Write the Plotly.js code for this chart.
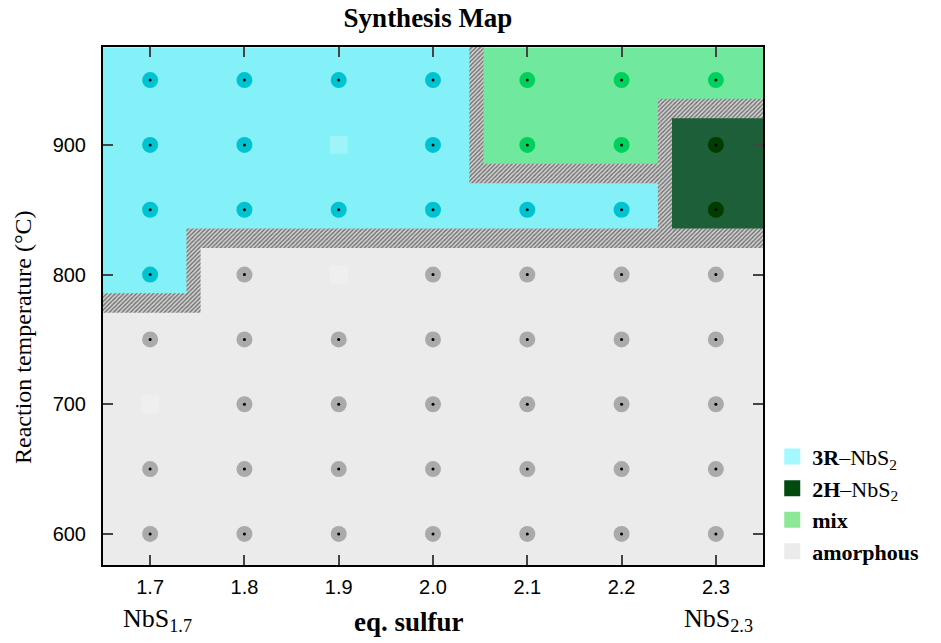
<!DOCTYPE html>
<html>
<head>
<meta charset="utf-8">
<script src="https://cdn.plot.ly/plotly-3.0.1.min.js"></script>
<style>html,body{margin:0;padding:0;background:#fff;}#chart{width:941px;height:643px;}</style>
</head>
<body>
<div id="chart"></div>
<script>
// ---- data ----
const sulfurEq = [1.7, 1.8, 1.9, 2.0, 2.1, 2.2, 2.3];
const temperatures = [600, 650, 700, 750, 800, 850, 900, 950];
// phase of each grid cell, one string per temperature row (A amorphous, R 3R-NbS2, M mix, H 2H-NbS2)
const phaseRows = [
  'AAAAAAA', // 600
  'AAAAAAA', // 650
  'AAAAAAA', // 700
  'AAAAAAA', // 750
  'RAAAAAA', // 800
  'RRRRRRH', // 850
  'RRRRMMH', // 900
  'RRRRMMM'  // 950
];
// grid points without a measurement
const missingX = [1.7, 1.9, 1.9];
const missingY = [700, 800, 900];
const phaseNames = {R: '<b>3R</b>–NbS<sub>2</sub>', H: '<b>2H</b>–NbS<sub>2</sub>', M: '<b>mix</b>', A: '<b>amorphous</b>'};
const legendOrder = ['R', 'H', 'M', 'A'];

// ---- styles ----
const regionColor = {A: '#ebebeb', R: '#84f1f8', M: '#70e89e', H: '#1c5f38'};
const markerColor = {A: '#aaaaaa', R: '#00c3d2', M: '#00d15e', H: '#003c00'};
const legendColor = {A: '#ebebeb', R: '#a2f9ff', M: '#8ae896', H: '#004a10'};
const code = {A: 0, R: 1, M: 2, H: 3};

const xStep = sulfurEq[1] - sulfurEq[0];
const yStep = temperatures[1] - temperatures[0];
const bandHalfX = 0.0075, bandHalfY = 7.5, bandShiftX = -0.004, bandShiftY = 3;

// heatmap of phase regions
const z = phaseRows.map(r => r.split('').map(c => code[c]));
const traces = [];
traces.push({
  type: 'heatmap', x: sulfurEq, y: temperatures, z: z,
  zmin: 0, zmax: 3, showscale: false, hoverinfo: 'skip',
  colorscale: [[0, regionColor.A], [0.1667, regionColor.A], [0.1667, regionColor.R], [0.5, regionColor.R],
               [0.5, regionColor.M], [0.8333, regionColor.M], [0.8333, regionColor.H], [1, regionColor.H]]
});

// hatched boundary bands between cells of different phase
const bx = [], by = [];
function rect(x0, x1, y0, y1) {
  x0 += bandShiftX; x1 += bandShiftX; y0 += bandShiftY; y1 += bandShiftY;
  bx.push(x0, x1, x1, x0, x0, null);
  by.push(y0, y0, y1, y1, y0, null);
}
for (let i = 0; i < temperatures.length; i++) {
  for (let j = 0; j < sulfurEq.length; j++) {
    const p = phaseRows[i][j];
    if (j + 1 < sulfurEq.length && phaseRows[i][j + 1] !== p) {
      const xm = (sulfurEq[j] + sulfurEq[j + 1]) / 2;
      rect(xm - bandHalfX, xm + bandHalfX, temperatures[i] - yStep / 2 - bandHalfY, temperatures[i] + yStep / 2 + bandHalfY);
    }
    if (i + 1 < temperatures.length && phaseRows[i + 1][j] !== p) {
      const ym = (temperatures[i] + temperatures[i + 1]) / 2;
      rect(sulfurEq[j] - xStep / 2 - bandHalfX, sulfurEq[j] + xStep / 2 + bandHalfX, ym - bandHalfY, ym + bandHalfY);
    }
  }
}
traces.push({
  type: 'scatter', x: bx, y: by, mode: 'none', fill: 'toself',
  fillcolor: '#c8c8c8',
  fillpattern: {shape: '/', fgcolor: '#6e6e6e', bgcolor: '#d4d4d4', size: 3, solidity: 0.45},
  showlegend: false, hoverinfo: 'skip'
});

// measured points
const isMissing = (x, y) => missingX.some((mx, k) => Math.abs(mx - x) < 1e-9 && missingY[k] === y);
const allX = [], allY = [];
legendOrder.forEach(ph => {
  const px = [], py = [];
  temperatures.forEach((t, i) => sulfurEq.forEach((s, j) => {
    if (phaseRows[i][j] === ph && !isMissing(s, t)) { px.push(s); py.push(t); allX.push(s); allY.push(t); }
  }));
  traces.push({type: 'scatter', mode: 'markers', x: px, y: py, showlegend: false,
    marker: {size: 16, color: markerColor[ph], line: {width: 0}}});
});
traces.push({type: 'scatter', mode: 'markers', x: allX, y: allY, showlegend: false, hoverinfo: 'skip',
  marker: {size: 3, color: '#000'}});
traces.push({type: 'scatter', mode: 'markers', x: missingX, y: missingY, showlegend: false, hoverinfo: 'skip',
  marker: {size: 18, symbol: 'square', color: 'rgba(255,255,255,0.22)', line: {width: 0}}});

// legend entries
legendOrder.forEach(ph => {
  traces.push({type: 'scatter', mode: 'markers', x: [null], y: [null], name: phaseNames[ph],
    marker: {size: 18, symbol: 'square', color: legendColor[ph]}});
});

const serif = 'Liberation Serif, Times New Roman, serif';
const sans = 'Liberation Sans, Arial, sans-serif';
const layout = {
  width: 941, height: 643,
  margin: {l: 103, r: 178, t: 47, b: 78},
  paper_bgcolor: '#fff', plot_bgcolor: '#ebebeb',
  title: {text: '<b>Synthesis Map</b>', font: {family: serif, size: 27, color: '#000'},
          xref: 'paper', x: (428 - 103) / 660, xanchor: 'center', yref: 'container', y: 0.972, yanchor: 'middle'},
  xaxis: {range: [1.65, 2.35], tickvals: sulfurEq, tickformat: '.1f', ticks: 'inside', ticklen: 10, tickwidth: 2,
          showline: true, linewidth: 2, linecolor: '#000', mirror: 'ticks', showgrid: false, zeroline: false,
          tickfont: {family: sans, size: 20, color: '#000'}, ticklabelstandoff: 3},
  yaxis: {range: [576, 975.5], tickvals: [600, 700, 800, 900], ticks: 'inside', ticklen: 10, tickwidth: 2,
          showline: true, linewidth: 2, linecolor: '#000', mirror: 'ticks', showgrid: false, zeroline: false,
          tickfont: {family: sans, size: 20, color: '#000'}, ticklabelstandoff: 11},
  showlegend: true,
  legend: {x: 1.014, xanchor: 'left', y: -0.015, yanchor: 'bottom', bgcolor: 'rgba(0,0,0,0)',
           font: {family: serif, size: 22, color: '#000'}, tracegroupgap: 0},
  annotations: [
    {text: '<b>eq. sulfur</b>', xref: 'paper', yref: 'paper', x: (409 - 103) / 660, y: -(622 - 565) / 518,
     xanchor: 'center', yanchor: 'middle', showarrow: false, font: {family: serif, size: 27, color: '#000'}},
    {text: 'NbS<sub>1.7</sub>', xref: 'paper', yref: 'paper', x: (157 - 103) / 660, y: -(620 - 565) / 518,
     xanchor: 'center', yanchor: 'middle', showarrow: false, font: {family: serif, size: 26, color: '#000'}},
    {text: 'NbS<sub>2.3</sub>', xref: 'paper', yref: 'paper', x: (718 - 103) / 660, y: -(620 - 565) / 518,
     xanchor: 'center', yanchor: 'middle', showarrow: false, font: {family: serif, size: 26, color: '#000'}},
    {text: 'Reaction temperature (°C)', xref: 'paper', yref: 'paper', x: -(103 - 23) / 660, y: (565 - 337) / 518,
     xanchor: 'center', yanchor: 'middle', textangle: -90, showarrow: false, font: {family: serif, size: 24, color: '#000'}}
  ]
};
Plotly.newPlot('chart', traces, layout, {displayModeBar: false, staticPlot: true});
</script>
</body>
</html>
